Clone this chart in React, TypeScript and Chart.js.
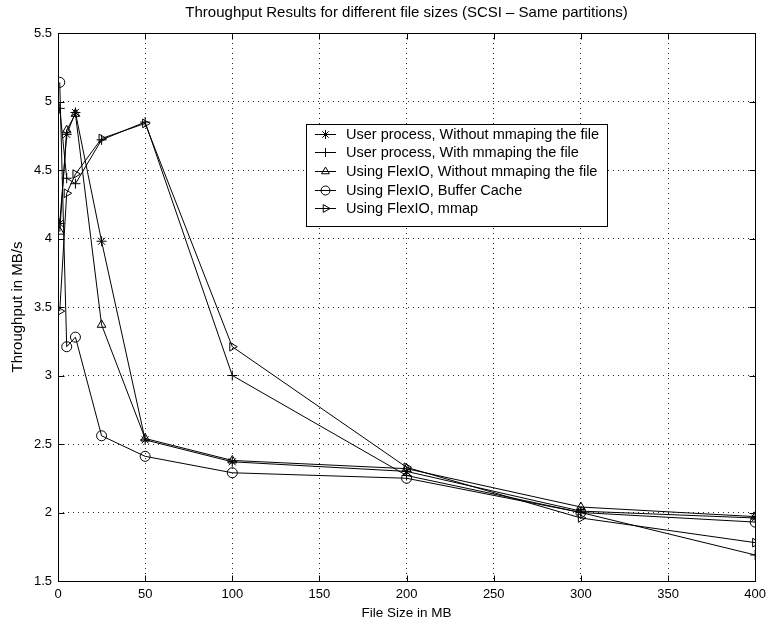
import React, { useEffect, useRef } from "react";
import { Chart, registerables } from "chart.js";
import { drawPoint } from "chart.js/helpers";

Chart.register(...registerables);

const fileSizes = [1, 5, 10, 25, 50, 100, 200, 300, 400];
const userNoMmap = [4.11, 4.76, 4.92, 3.98, 2.53, 2.37, 2.3, 2.01, 1.96];
const userMmap = [4.95, 4.44, 4.4, 4.72, 4.85, 3.0, 2.27, 2.0, 1.69];
const flexNoMmap = [4.05, 4.79, 4.91, 3.37, 2.54, 2.38, 2.32, 2.04, 1.97];
const flexBuffer = [5.14, 3.21, 3.28, 2.56, 2.41, 2.29, 2.25, 2.0, 1.93];
const flexMmap = [3.47, 4.33, 4.47, 4.73, 4.84, 3.21, 2.33, 1.96, 1.78];

const xTicks = [0, 50, 100, 150, 200, 250, 300, 350, 400];
const yTicks = [1.5, 2, 2.5, 3, 3.5, 4, 4.5, 5, 5.5];

const chartTitle = "Throughput Results for different file sizes (SCSI \u2013 Same partitions)";
const seriesLabels = [
  "User process, Without mmaping the file",
  "User process, With mmaping the file",
  "Using FlexIO, Without mmaping the file",
  "Using FlexIO, Buffer Cache",
  "Using FlexIO, mmap",
];
const seriesValues = [userNoMmap, userMmap, flexNoMmap, flexBuffer, flexMmap];
const seriesMarkers = ["star", "cross", "triangle", "circle", "triangle"];
const seriesRotation = [0, 0, 0, 0, 90];

const FONT = "'Liberation Sans', Arial, Helvetica, sans-serif";

const framePlugin = {
  id: "frameAndLegend",
  afterDraw(chart: any) {
    const { ctx, chartArea: a, scales } = chart;
    ctx.save();
    // title centred over the plot area
    ctx.fillStyle = "#000";
    ctx.font = `15px ${FONT}`;
    ctx.textAlign = "center";
    ctx.textBaseline = "middle";
    ctx.fillText(chartTitle, (a.left + a.right) / 2, 13);

    ctx.strokeStyle = "#000";
    ctx.lineWidth = 1;
    ctx.setLineDash([]);
    const L = Math.round(a.left) + 0.5;
    const R = Math.round(a.right) + 0.5;
    const T = Math.round(a.top) + 0.5;
    const B = Math.round(a.bottom) + 0.5;
    ctx.strokeRect(L, T, R - L, B - T);
    const tl = 6;
    ctx.beginPath();
    for (const v of xTicks) {
      const x = Math.round(scales.x.getPixelForValue(v)) + 0.5;
      ctx.moveTo(x, B);
      ctx.lineTo(x, B - tl);
      ctx.moveTo(x, T);
      ctx.lineTo(x, T + tl);
    }
    for (const v of yTicks) {
      const y = Math.round(scales.y.getPixelForValue(v)) + 0.5;
      ctx.moveTo(L, y);
      ctx.lineTo(L + tl, y);
      ctx.moveTo(R, y);
      ctx.lineTo(R - tl, y);
    }
    ctx.stroke();

    // legend box
    const bx = 306.5, by = 124.5, bw = 301, bh = 102;
    ctx.fillStyle = "#fff";
    ctx.fillRect(bx, by, bw, bh);
    ctx.strokeRect(bx, by, bw, bh);
    ctx.font = `14.5px ${FONT}`;
    ctx.textBaseline = "middle";
    ctx.textAlign = "left";
    seriesLabels.forEach((label, i) => {
      const y = Math.round(133.5 + i * 18.7) + 0.5;
      ctx.strokeStyle = "#000";
      ctx.lineWidth = 1;
      ctx.beginPath();
      ctx.moveTo(315, y);
      ctx.lineTo(336, y);
      ctx.stroke();
      ctx.fillStyle = "rgba(0,0,0,0)";
      drawPoint(
        ctx,
        {
          pointStyle: seriesMarkers[i],
          rotation: seriesRotation[i],
          radius: 4.5,
          borderWidth: 1,
        } as any,
        325.5,
        y
      );
      ctx.fillStyle = "#000";
      ctx.fillText(label, 346, y + 0.5);
    });
    ctx.restore();
  },
};

export default function App() {
  const ref = useRef<HTMLCanvasElement | null>(null);
  useEffect(() => {
    document.body.style.margin = "0";
    const canvas = ref.current!;
    const chart = new Chart(canvas, {
      type: "line",
      data: {
        datasets: seriesValues.map((vals, i) => ({
          label: seriesLabels[i],
          data: vals.map((v, j) => ({ x: fileSizes[j], y: v })),
          borderColor: "#000",
          borderWidth: 1,
          backgroundColor: "rgba(0,0,0,0)",
          pointStyle: seriesMarkers[i] as any,
          rotation: seriesRotation[i],
          pointRadius: 5,
          pointBorderColor: "#000",
          pointBackgroundColor: "rgba(0,0,0,0)",
          pointBorderWidth: 1,
          tension: 0,
          fill: false,
        })),
      },
      options: {
        animation: false,
        responsive: false,
        devicePixelRatio: 1,
        layout: { padding: { left: 0, right: 15, top: 33, bottom: 0 } },
        plugins: {
          legend: { display: false },
          tooltip: { enabled: false },
          title: { display: false },
        },
        scales: {
          x: {
            type: "linear",
            min: 0,
            max: 400,
            afterBuildTicks: (s: any) => {
              s.ticks = xTicks.map((v) => ({ value: v }));
            },
            afterFit: (s: any) => {
              s.height = 50;
            },
            ticks: {
              color: "#000",
              font: { family: FONT, size: 13 },
              padding: 6,
              maxRotation: 0,
              callback: (v: any) => String(v),
            },
            grid: {
              color: "rgba(0,0,0,0.85)",
              lineWidth: 1,
              drawTicks: false,
              tickBorderDash: [1, 4],
            },
            border: { display: false, dash: [1, 4] },
            title: {
              display: true,
              text: "File Size in MB",
              color: "#000",
              font: { family: FONT, size: 13.5 },
              padding: { top: 0, bottom: 10 },
            },
          },
          y: {
            type: "linear",
            min: 1.5,
            max: 5.5,
            afterBuildTicks: (s: any) => {
              s.ticks = yTicks.map((v) => ({ value: v }));
            },
            afterFit: (s: any) => {
              s.width = 58;
            },
            ticks: {
              color: "#000",
              font: { family: FONT, size: 13 },
              padding: 6,
              callback: (v: any) => String(v),
            },
            grid: {
              color: "rgba(0,0,0,0.85)",
              lineWidth: 1,
              drawTicks: false,
              tickBorderDash: [1, 4],
            },
            border: { display: false, dash: [1, 4] },
            title: {
              display: true,
              text: "Throughput in MB/s",
              color: "#000",
              font: { family: FONT, size: 15 },
              padding: { top: 9, bottom: 0 },
            },
          },
        },
      } as any,
      plugins: [framePlugin],
    });
    return () => chart.destroy();
  }, []);
  return (
    <div style={{ width: 772, height: 631, background: "#fff" }}>
      <canvas ref={ref} width={772} height={631} style={{ display: "block" }} />
    </div>
  );
}
